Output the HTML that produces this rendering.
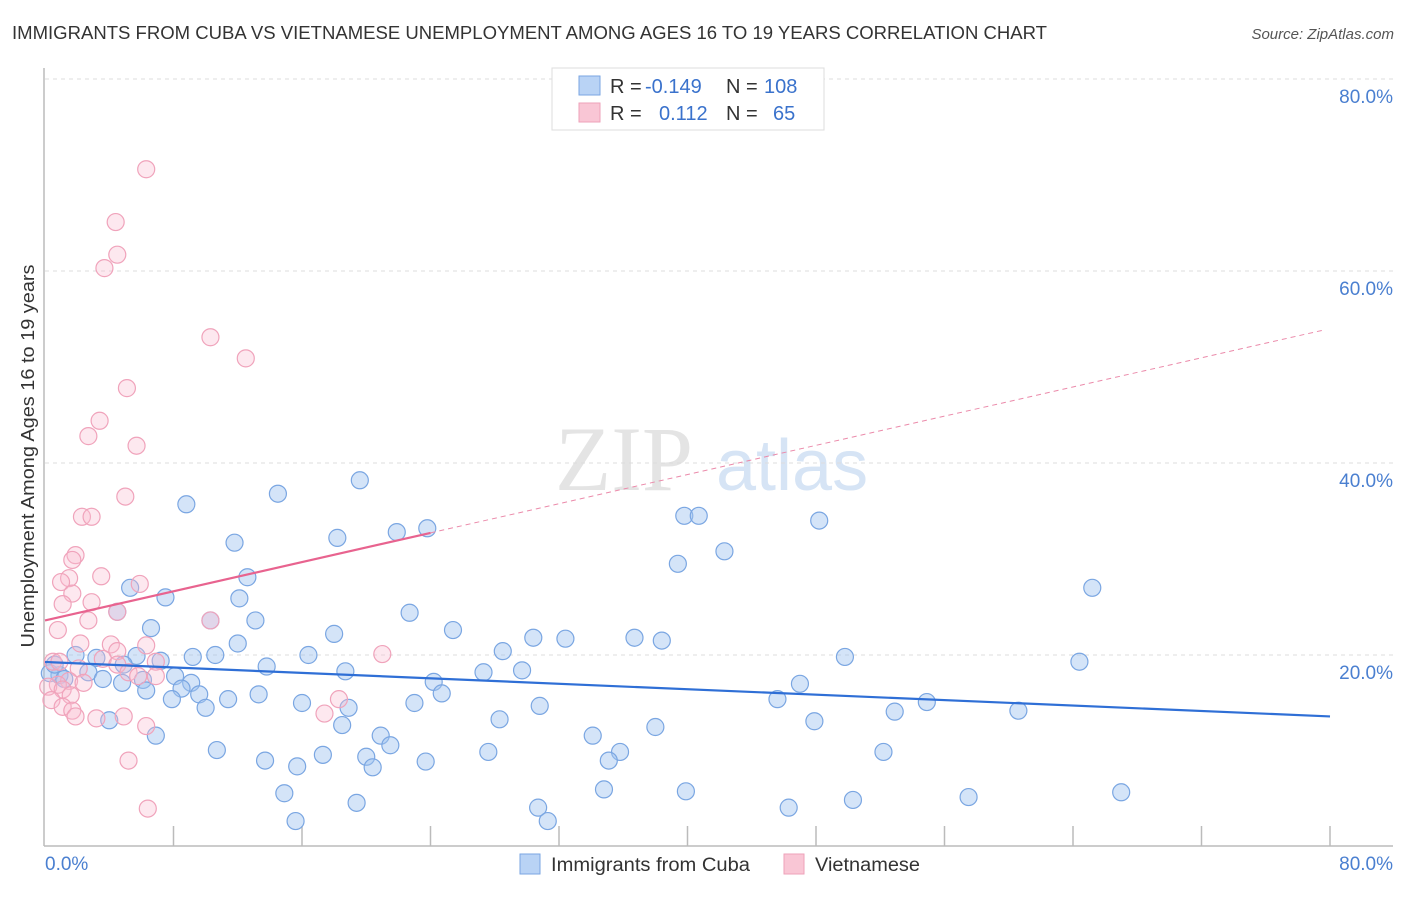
<!DOCTYPE html>
<html><head><meta charset="utf-8"><style>
body{margin:0;background:#fff;font-family:"Liberation Sans",sans-serif;}
svg text{font-family:"Liberation Sans",sans-serif;}
</style></head><body>
<svg id="chart" width="1406" height="892" xmlns="http://www.w3.org/2000/svg">
<text x="12" y="39" font-size="18" fill="#333" textLength="1035" lengthAdjust="spacingAndGlyphs">IMMIGRANTS FROM CUBA VS VIETNAMESE UNEMPLOYMENT AMONG AGES 16 TO 19 YEARS CORRELATION CHART</text>
<text x="1394" y="39" font-size="15" fill="#555" text-anchor="end" font-style="italic">Source: ZipAtlas.com</text>
<text x="555" y="490" font-size="92" fill="#e4e4e4" font-family="Liberation Serif" style="font-family:'Liberation Serif',serif">ZIP</text>
<text x="716" y="490" font-size="72" fill="#d6e4f5">atlas</text>
<g id="grid"></g>
<line x1="44" y1="68" x2="44" y2="846" stroke="#bbb" stroke-width="1.5"/>
<line x1="44" y1="846" x2="1393" y2="846" stroke="#bbb" stroke-width="1.5"/>
<g id="xticks"></g>
<text transform="translate(34,456) rotate(-90)" font-size="18" fill="#333" text-anchor="middle" textLength="383" lengthAdjust="spacingAndGlyphs">Unemployment Among Ages 16 to 19 years</text>
<text x="45" y="870" font-size="19" fill="#4a7fd0">0.0%</text>
<text x="1393" y="870" font-size="19" fill="#4a7fd0" text-anchor="end">80.0%</text>
<g id="points"></g>
<g id="trends"></g>
<g>
<rect x="552" y="68" width="272" height="62" fill="#fff" stroke="#ddd"/>
<rect x="579" y="76" width="21" height="19" fill="#b9d3f5" stroke="#7aa6e2"/>
<rect x="579" y="103" width="21" height="19" fill="#f9c6d5" stroke="#eea2b9"/>
<text x="610" y="93" font-size="20" fill="#333">R =</text>
<text x="645" y="93" font-size="20" fill="#3a72cc">-0.149</text>
<text x="726" y="93" font-size="20" fill="#333">N =</text>
<text x="764" y="93" font-size="20" fill="#3a72cc">108</text>
<text x="610" y="120" font-size="20" fill="#333">R =</text>
<text x="659" y="120" font-size="20" fill="#3a72cc">0.112</text>
<text x="726" y="120" font-size="20" fill="#333">N =</text>
<text x="773" y="120" font-size="20" fill="#3a72cc">65</text>
</g>
<g>
<rect x="520" y="854" width="20" height="20" fill="#b9d3f5" stroke="#7aa6e2"/>
<text x="551" y="871" font-size="19" fill="#333" textLength="199" lengthAdjust="spacingAndGlyphs">Immigrants from Cuba</text>
<rect x="784" y="854" width="20" height="20" fill="#f9c6d5" stroke="#eea2b9"/>
<text x="815" y="871" font-size="19" fill="#333" textLength="105" lengthAdjust="spacingAndGlyphs">Vietnamese</text>
</g>
</svg>
<script>
const yTicks=[20,40,60,80];
const yTickLabels=["20.0%","40.0%","60.0%","80.0%"];
const xTicks=[8,16,24,32,40,48,56,64,72,80];
const cubaX=[8.8,14.5,19.6,11.8,18.2,21.9,23.8,39.8,40.7,48.2,42.3,39.4,65.2,12.6,5.3,7.5,12.1,4.5,22.7,10.3,13.1,6.6,25.4,18.0,12.0,30.4,32.4,36.7,38.4,28.5,16.4,10.6,9.2,7.2,5.7,3.2,1.9,4.9,49.8,64.4,13.8,18.7,27.3,29.7,8.1,2.7,0.9,0.3,0.6,1.2,24.2,9.1,3.6,6.1,4.8,47.0,8.5,6.3,9.6,24.7,13.3,11.4,7.9,45.6,54.9,16.0,23.0,10.0,18.9,30.8,52.9,60.6,4.0,28.3,47.9,18.5,38.0,6.9,20.9,34.1,21.5,10.7,17.3,27.6,35.8,52.2,20.0,35.1,13.7,23.7,15.7,20.4,14.9,34.8,39.9,67.0,57.5,50.3,19.4,30.7,46.3,31.3,15.6];
const cubaY=[35.7,36.8,38.2,31.7,32.2,32.8,33.2,34.5,34.5,34.0,30.8,29.5,27.0,28.1,27.0,26.0,25.9,24.5,24.4,23.6,23.6,22.8,22.6,22.2,21.2,21.8,21.7,21.8,21.5,20.4,20.0,20.0,19.8,19.4,19.9,19.7,20.0,19.0,19.8,19.3,18.8,18.3,18.2,18.4,17.8,18.2,17.9,18.1,19.0,17.5,17.2,17.1,17.5,17.4,17.1,17.0,16.5,16.3,15.9,16.0,15.9,15.4,15.4,15.4,15.1,15.0,15.0,14.5,14.5,14.7,14.1,14.2,13.2,13.3,13.1,12.7,12.5,11.6,11.6,11.6,10.6,10.1,9.6,9.9,9.9,9.9,9.4,9.0,9.0,8.9,8.4,8.3,5.6,6.0,5.8,5.7,5.2,4.9,4.6,4.1,4.1,2.7,2.7];
const vietX=[6.3,4.4,4.5,3.7,10.3,12.5,5.1,3.4,2.7,5.7,5.0,2.3,2.9,1.9,1.7,3.5,1.5,1.0,5.9,1.7,2.9,1.1,4.5,10.3,2.7,0.8,2.2,4.1,6.3,4.5,21.0,3.6,0.5,0.9,6.9,4.5,2.1,5.2,5.8,6.9,1.5,2.4,0.8,0.2,1.1,1.6,0.4,18.3,1.1,1.7,1.9,4.9,3.2,17.4,6.3,5.2,6.4];
const vietY=[70.6,65.1,61.7,60.3,53.1,50.9,47.8,44.4,42.8,41.8,36.5,34.4,34.4,30.4,29.9,28.2,28.0,27.6,27.4,26.4,25.5,25.3,24.5,23.6,23.6,22.6,21.2,21.1,21.0,20.4,20.1,19.6,19.3,19.3,19.3,19.0,18.6,18.2,17.8,17.8,17.3,17.1,16.9,16.7,16.4,15.8,15.3,15.4,14.6,14.2,13.6,13.6,13.4,13.9,12.6,9.0,4.0];
const cubaTrend=[19.27,13.6];
const vietTrend=[23.6,54.0];
const vietSolidEnd=24;

const NS="http://www.w3.org/2000/svg";
const xs=v=>45+v*(1285/80);
const ys=v=>847-v*9.6;
function mk(tag,attrs,parent){const e=document.createElementNS(NS,tag);for(const k in attrs)e.setAttribute(k,attrs[k]);parent.appendChild(e);return e;}
const grid=document.getElementById('grid');
yTicks.forEach((t,i)=>{
  const l=mk('line',{x1:45,x2:1393,y1:ys(t),y2:ys(t),stroke:'#ddd','stroke-dasharray':'4,4'},grid);
  
  
  const tx=mk('text',{x:1393,y:ys(t)+24,'font-size':19,fill:'#4a7fd0','text-anchor':'end'},grid);
  tx.textContent=yTickLabels[i];
  
  
});
const xt=document.getElementById('xticks');
xTicks.forEach(t=>{
  const l=mk('line',{x1:xs(t),x2:xs(t),y1:826,y2:846,stroke:'#bbb','stroke-width':1.5},xt);
  
  
});
const pts=document.getElementById('points');
cubaX.forEach((x,i)=>{
  const c=mk('circle',{cx:xs(x),cy:ys(cubaY[i]),r:8.5,fill:'rgba(160,196,240,0.45)',stroke:'#7aa6e2','stroke-width':1.2},pts);
  
  
});
vietX.forEach((x,i)=>{
  const c=mk('circle',{cx:xs(x),cy:ys(vietY[i]),r:8.5,fill:'rgba(248,190,208,0.35)',stroke:'#f0a3bb','stroke-width':1.2},pts);
  
  
});
const tr=document.getElementById('trends');
const b=mk('line',{x1:xs(0),y1:ys(cubaTrend[0]),x2:xs(80),y2:ys(cubaTrend[1]),stroke:'#2f6fd6','stroke-width':2.2},tr);


const vAt=x=>vietTrend[0]+(vietTrend[1]-vietTrend[0])*x/80;
const p1=mk('line',{x1:xs(0),y1:ys(vAt(0)),x2:xs(vietSolidEnd),y2:ys(vAt(vietSolidEnd)),stroke:'#e8638f','stroke-width':2.2},tr);


const p2=mk('line',{x1:xs(vietSolidEnd),y1:ys(vAt(vietSolidEnd)),x2:xs(79.7),y2:ys(vAt(79.7)),stroke:'#eb8aaa','stroke-width':1,'stroke-dasharray':'5,4'},tr);


</script>
</body></html>
